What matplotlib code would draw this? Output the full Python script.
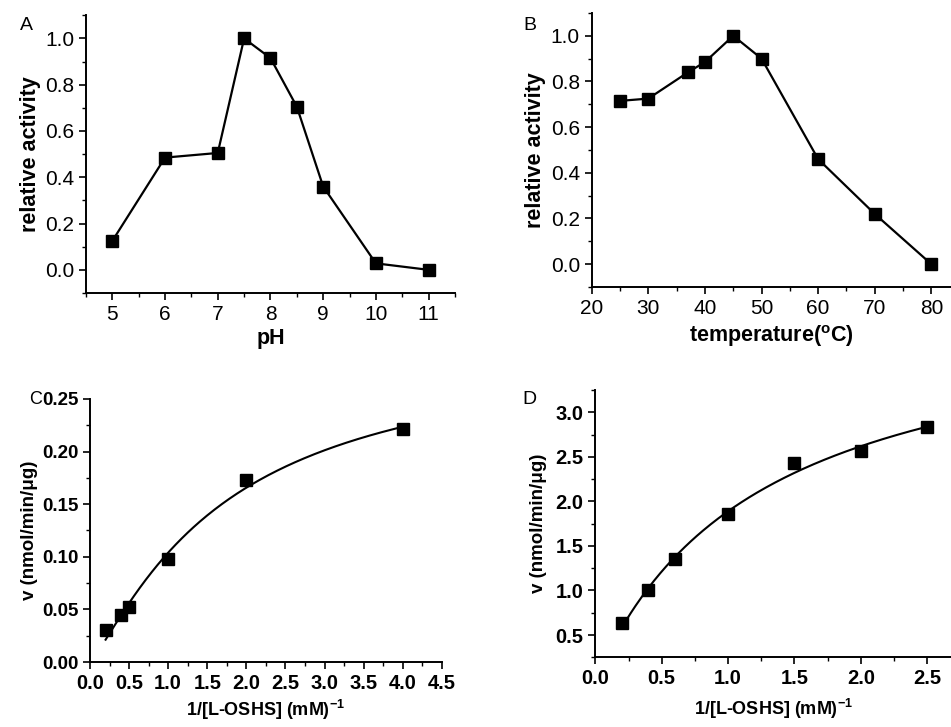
import numpy as np
import matplotlib
matplotlib.use("Agg")
from matplotlib import pyplot as plt
from matplotlib.ticker import MultipleLocator, FormatStrFormatter

plt.rcParams['font.family'] = ['Liberation Sans', 'DejaVu Sans']
plt.rcParams['mathtext.fontset'] = 'custom'
plt.rcParams['mathtext.rm'] = 'Liberation Sans'
plt.rcParams['mathtext.bf'] = 'Liberation Sans:bold'

# A: pH profile
ph = [5, 6, 7, 7.5, 8, 8.5, 9, 10, 11]
ph_act = [0.125, 0.485, 0.505, 1.0, 0.915, 0.705, 0.36, 0.028, 0.0]

# B: temperature profile
temp = [25, 30, 37, 40, 45, 50, 60, 70, 80]
temp_act = [0.715, 0.725, 0.84, 0.885, 1.0, 0.9, 0.46, 0.22, 0.0]

# C, D: kinetics
c_x = [0.2, 0.4, 0.5, 1.0, 2.0, 4.0]
c_v = [0.030, 0.045, 0.052, 0.098, 0.173, 0.221]
d_x = [0.2, 0.4, 0.6, 1.0, 1.5, 2.0, 2.5]
d_v = [0.63, 1.0, 1.35, 1.855, 2.43, 2.57, 2.83]


def hill_fit(x, y):
    """
        grid search Hill fit, Vmax by least squares
    """
    x = np.asarray(x, float)
    y = np.asarray(y, float)
    best = None
    for n in np.linspace(0.8, 2.0, 61):
        for k in np.linspace(0.2, 6.0, 291):
            f = x**n / (k**n + x**n)
            vmax = (f @ y) / (f @ f)
            err = np.sum((vmax * f - y) ** 2)
            if best is None or err < best[0]:
                best = (err, vmax, k, n)
    _, vmax, k, n = best
    return lambda t: vmax * t**n / (k**n + t**n)


def style(ax, bold_ticks=False, size=15):
    for s in ("top", "right"):
        ax.spines[s].set_visible(False)
    for s in ("left", "bottom"):
        ax.spines[s].set_linewidth(1.4)
    ax.tick_params(which="major", direction="out", length=5, width=1.2, labelsize=size)
    ax.tick_params(which="minor", direction="out", length=3, width=1.0)
    if bold_ticks:
        for lab in ax.get_xticklabels() + ax.get_yticklabels():
            lab.set_fontweight("bold")


fig = plt.figure(figsize=(9.51, 7.27), dpi=100)

# A
ax = fig.add_axes([0.0904, 0.597, 0.388, 0.382])
ax.plot(ph, ph_act, "k-s", lw=1.6, ms=8)
ax.set_xlim(4.5, 11.5)
ax.set_ylim(-0.1, 1.1)
ax.xaxis.set_major_locator(MultipleLocator(1))
ax.xaxis.set_minor_locator(MultipleLocator(0.5))
ax.yaxis.set_major_locator(MultipleLocator(0.2))
ax.yaxis.set_minor_locator(MultipleLocator(0.1))
ax.yaxis.set_major_formatter(FormatStrFormatter("%.1f"))
ax.set_xlabel("pH", fontsize=15.5, fontweight="bold", labelpad=3)
ax.set_ylabel("relative activity", fontsize=15.5, fontweight="bold", labelpad=3)
style(ax)
fig.text(20 / 951, 1 - 25 / 727, "A", fontsize=14, va="center", ha="left")

# B
ax = fig.add_axes([0.6222, 0.6052, 0.378, 0.377])
ax.plot(temp, temp_act, "k-s", lw=1.6, ms=8)
ax.set_xlim(20, 83.5)
ax.set_ylim(-0.1, 1.1)
ax.xaxis.set_major_locator(MultipleLocator(10))
ax.xaxis.set_minor_locator(MultipleLocator(5))
ax.yaxis.set_major_locator(MultipleLocator(0.2))
ax.yaxis.set_minor_locator(MultipleLocator(0.1))
ax.yaxis.set_major_formatter(FormatStrFormatter("%.1f"))
ax.set_xlabel(r"temperature($\mathbf{^o}$C)", fontsize=15.5, fontweight="bold", labelpad=4)
ax.set_ylabel("relative activity", fontsize=15.5, fontweight="bold", labelpad=3)
style(ax)
fig.text(523 / 951, 1 - 25 / 727, "B", fontsize=14, va="center", ha="left")

# C
ax = fig.add_axes([0.0946, 0.0894, 0.370, 0.3618])
fc = hill_fit(c_x, c_v)
xs = np.linspace(min(c_x), max(c_x), 200)
ax.plot(xs, fc(xs), "k-", lw=1.5)
ax.plot(c_x, c_v, "ks", ms=8, ls="none")
ax.set_xlim(0, 4.5)
ax.set_ylim(0, 0.25)
ax.xaxis.set_major_locator(MultipleLocator(0.5))
ax.xaxis.set_minor_locator(MultipleLocator(0.25))
ax.yaxis.set_major_locator(MultipleLocator(0.05))
ax.yaxis.set_minor_locator(MultipleLocator(0.025))
ax.xaxis.set_major_formatter(FormatStrFormatter("%.1f"))
ax.yaxis.set_major_formatter(FormatStrFormatter("%.2f"))
ax.set_xlabel(r"1/[L-OSHS] (mM)$\mathbf{^{-1}}$", fontsize=13, fontweight="bold", labelpad=4)
ax.set_ylabel("v (nmol/min/μg)", fontsize=13.5, fontweight="bold", labelpad=3)
style(ax, bold_ticks=True, size=14.5)
ax.tick_params(axis="y", labelsize=13.5, pad=3)
fig.text(29 / 951, 1 - 399 / 727, "C", fontsize=13, va="center", ha="left")

# D
ax = fig.add_axes([0.626, 0.0959, 0.374, 0.3676])
fd = hill_fit(d_x, d_v)
xs = np.linspace(min(d_x), max(d_x), 200)
ax.plot(xs, fd(xs), "k-", lw=1.5)
ax.plot(d_x, d_v, "ks", ms=8, ls="none")
ax.set_xlim(0, 2.68)
ax.set_ylim(0.25, 3.25)
ax.xaxis.set_major_locator(MultipleLocator(0.5))
ax.xaxis.set_minor_locator(MultipleLocator(0.25))
ax.yaxis.set_major_locator(MultipleLocator(0.5))
ax.yaxis.set_minor_locator(MultipleLocator(0.25))
ax.xaxis.set_major_formatter(FormatStrFormatter("%.1f"))
ax.yaxis.set_major_formatter(FormatStrFormatter("%.1f"))
ax.set_xlabel(r"1/[L-OSHS] (mM)$\mathbf{^{-1}}$", fontsize=13, fontweight="bold", labelpad=6)
ax.set_ylabel("v (nmol/min/μg)", fontsize=13.5, fontweight="bold", labelpad=6)
style(ax, bold_ticks=True, size=14.5)
fig.text(522 / 951, 1 - 399 / 727, "D", fontsize=14, va="center", ha="left")

fig.savefig("out.png", dpi=100)
